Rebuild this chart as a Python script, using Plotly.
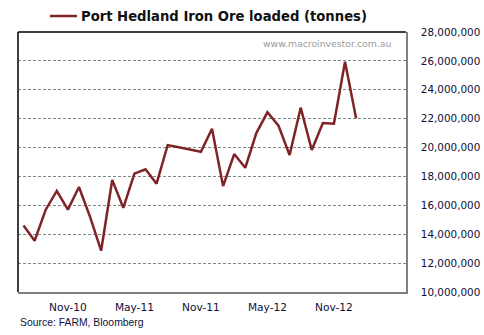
import plotly.graph_objects as go

# Monthly iron ore loaded at Port Hedland, Jul-10 to Jan-13
months = [
    "Jul-10", "Aug-10", "Sep-10", "Oct-10", "Nov-10", "Dec-10",
    "Jan-11", "Feb-11", "Mar-11", "Apr-11", "May-11", "Jun-11",
    "Jul-11", "Aug-11", "Sep-11", "Oct-11", "Nov-11", "Dec-11",
    "Jan-12", "Feb-12", "Mar-12", "Apr-12", "May-12", "Jun-12",
    "Jul-12", "Aug-12", "Sep-12", "Oct-12", "Nov-12", "Dec-12",
    "Jan-13",
]
tonnes = [
    14600000, 13550000, 15700000, 17000000, 15700000, 17270000,
    15200000, 12860000, 17750000, 15830000, 18190000, 18500000,
    17500000, 20170000, 20020000, 19860000, 19710000, 21300000,
    17330000, 19550000, 18600000, 21000000, 22440000, 21510000,
    19480000, 22760000, 19830000, 21700000, 21650000, 25940000,
    22020000,
]
x_ticks = ["Nov-10", "May-11", "Nov-11", "May-12", "Nov-12"]
y_ticks = list(range(10000000, 28000001, 2000000))

title_text = "Port Hedland Iron Ore loaded (tonnes)"
source_text = "Source: FARM, Bloomberg"
site_text = "www.macroinvestor.com.au"

LINE = "#7f2327"
TXT = "#10103a"
FONT = "DejaVu Sans"

fig = go.Figure()
fig.add_trace(go.Scatter(
    x=months, y=tonnes, mode="lines", name=title_text,
    line=dict(color=LINE, width=2.5), showlegend=False,
))

# key above the plot: a short line sample followed by the series name
KEY_Y = 1.0615

fig.update_layout(
    width=484, height=335,
    margin=dict(l=18, r=78, t=32, b=43, autoexpand=False),
    paper_bgcolor="white", plot_bgcolor="white",
    xaxis=dict(
        type="category", range=[-0.5, 34.5], automargin=False,
        tickmode="array", tickvals=x_ticks, ticktext=x_ticks,
        showgrid=False, ticks="", showline=True, linecolor="#808080",
        linewidth=1.5, tickfont=dict(family=FONT, size=10.6, color=TXT),
        ticklabelstandoff=5,
    ),
    yaxis=dict(
        range=[10000000, 28000000], side="right", automargin=False,
        tickmode="array", tickvals=y_ticks, tickformat=",",
        showgrid=True, gridcolor="#7a8a86", griddash="3px,2px", gridwidth=1,
        showline=True, linecolor="#808080", linewidth=1.5,
        ticks="", ticklabelstandoff=11,
        tickfont=dict(family=FONT, size=10.4, color=TXT),
        zeroline=False,
    ),
    shapes=[
        dict(type="line", xref="paper", yref="paper", x0=0, x1=0, y0=0, y1=1,
             line=dict(color="black", width=1.5)),
        dict(type="line", xref="paper", yref="paper", x0=0, x1=1, y0=1, y1=1,
             line=dict(color="black", width=1.5)),
        dict(type="line", xref="paper", yref="paper", x0=0.0825, x1=0.152,
             y0=KEY_Y, y1=KEY_Y, line=dict(color=LINE, width=2.5)),
    ],
    annotations=[
        dict(text="<b>" + title_text + "</b>", xref="paper", yref="paper",
             x=0.157, y=KEY_Y, xanchor="left", yanchor="middle",
             showarrow=False,
             font=dict(family=FONT, size=13.2, color="#111111")),
        dict(text=site_text, xref="paper", yref="paper", x=0.966, y=0.954,
             xanchor="right", yanchor="middle", showarrow=False,
             font=dict(family=FONT, size=9.3, color="#9a9a9a")),
        dict(text=source_text, xref="paper", yref="paper", x=0, y=-0.119,
             xanchor="left", yanchor="middle", showarrow=False,
             font=dict(family="Liberation Sans", size=10.4, color=TXT)),
    ],
)

fig.write_html("out.html")
